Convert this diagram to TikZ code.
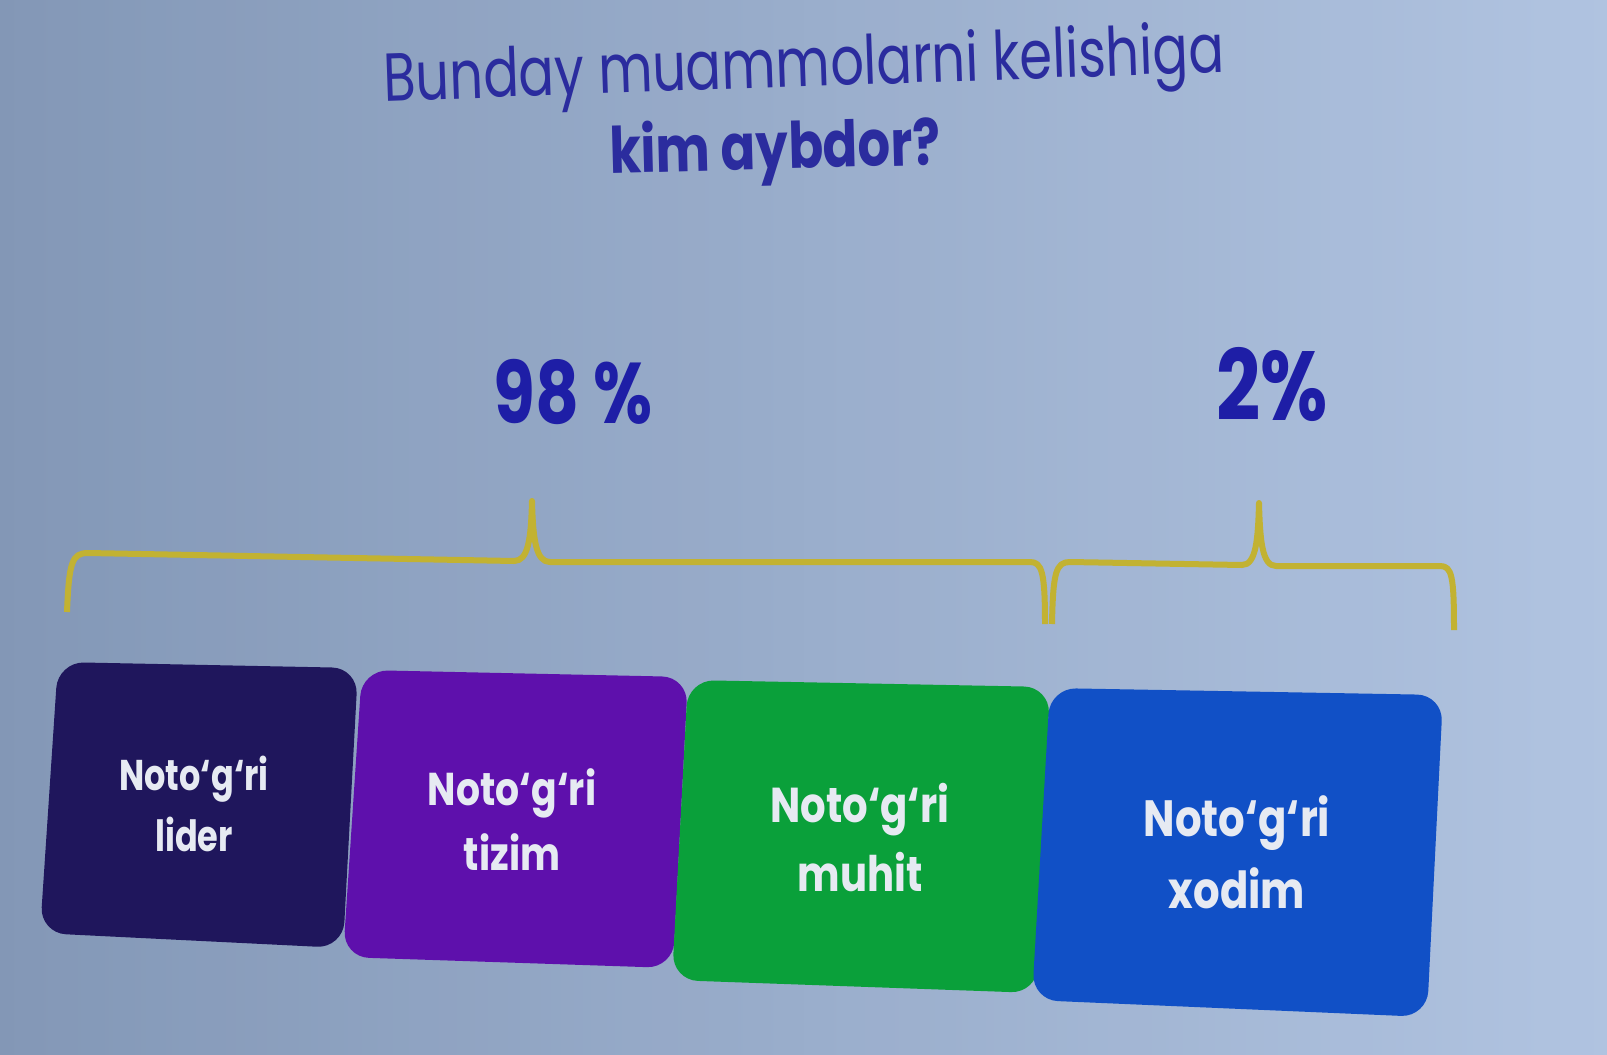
\documentclass[tikz,border=0pt]{standalone}
\usepackage{fontspec}
\setmainfont[FakeStretch=0.8]{Poppins}
\newfontfamily\titlefont[FakeStretch=0.775]{Poppins}
\newfontfamily\numfont[FakeStretch=0.79]{Poppins}
\newfontfamily\boxfont[FakeStretch=0.82]{Poppins}
\newfontfamily\boxfontn[FakeStretch=0.78]{Poppins}
\definecolor{bgL}{HTML}{6F87AB}
\definecolor{bgM}{HTML}{88A2C9}
\definecolor{bgR}{HTML}{A4BADC}
\definecolor{titleblue}{HTML}{2B2C9E}
\definecolor{numblue}{HTML}{1E1EA6}
\definecolor{bracecol}{HTML}{C2B232}
\definecolor{cLider}{HTML}{1F165C}
\definecolor{cTizim}{HTML}{5E10AC}
\definecolor{cMuhit}{HTML}{0AA03A}
\definecolor{cXodim}{HTML}{1150C6}
\definecolor{boxtext}{HTML}{E6EAF2}
\tikzset{
  card/.style={rounded corners=26pt},
  cardtext/.style={text=boxtext, align=center},
  brace/.style={draw=bracecol, line width=6pt, line join=round, line cap=butt},
}
\begin{document}
\begin{tikzpicture}[x=1pt,y=-1pt]
\useasboundingbox (0,0) rectangle (1607,1055);
% background
\shade[left color=bgL, middle color=bgM, right color=bgR] (-2,-2) rectangle (1609,1057);
\shade[top color=white, middle color=bgM, bottom color=white, opacity=0.14] (-2,-2) rectangle (1609,1057);

% title
\node[text=titleblue, font=\titlefont\fontsize{68}{80}\selectfont, rotate=2, inner sep=0pt] (t1) at (804,70) {Bunday muammolarni kelishiga};
\node[text=titleblue, font=\fontsize{64}{76}\selectfont\bfseries, rotate=1.5, inner sep=0pt] (t2) at (775,152) {kim aybdor?};

% percentages
\node[text=numblue, font=\numfont\bfseries\fontsize{86}{96}\selectfont] (p98) at (573,392) {98 \%};
\node[text=numblue, font=\numfont\bfseries\fontsize{98}{108}\selectfont] (p2) at (1272,384) {2\%};

% braces
\draw[brace] (67,612) .. controls (69,562) and (72,553) .. (88,553)
  -- (514,561) .. controls (528,561) and (531,540) .. (532,501)
  .. controls (533,540) and (536,562) .. (550,562)
  -- (1030,562) .. controls (1042,562) and (1045,572) .. (1045,624);
\draw[brace] (1052,624) .. controls (1053,572) and (1056,562) .. (1070,562)
  -- (1242,565) .. controls (1256,565) and (1258,540) .. (1259,503)
  .. controls (1260,540) and (1262,566) .. (1276,566)
  -- (1440,566) .. controls (1452,566) and (1454,576) .. (1454,630);

% cards
\fill[card, cLider] (58,662) -- (358,668) -- (343,948) -- (40,933) -- cycle;
\fill[card, cTizim] (362,670) -- (688,677) -- (673,968) -- (343,957) -- cycle;
\fill[card, cMuhit] (688,680) -- (1050,687) -- (1037,993) -- (672,980) -- cycle;
\fill[card, cXodim] (1050,688) -- (1443,695) -- (1427,1017) -- (1032,1000) -- cycle;

\node[cardtext, font=\boxfontn\bfseries\fontsize{43}{61}\selectfont] (lider) at (194,804) {Noto‘g‘ri\\lider};
\node[cardtext, font=\boxfont\bfseries\fontsize{46}{65}\selectfont] (tizim) at (512,820) {Noto‘g‘ri\\tizim};
\node[cardtext, font=\boxfont\bfseries\fontsize{49}{69}\selectfont] (muhit) at (860,838) {Noto‘g‘ri\\muhit};
\node[cardtext, font=\boxfont\bfseries\fontsize{51}{72}\selectfont] (xodim) at (1237,852) {Noto‘g‘ri\\xodim};
\end{tikzpicture}
\end{document}
